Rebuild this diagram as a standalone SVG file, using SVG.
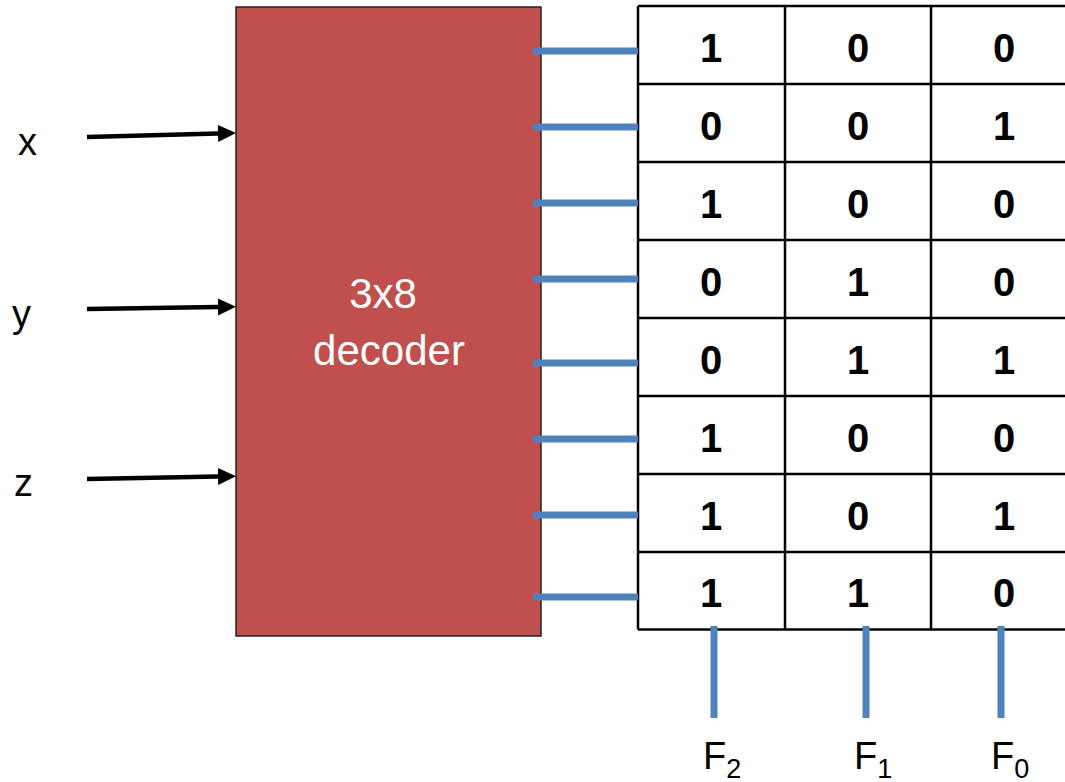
<svg xmlns="http://www.w3.org/2000/svg" width="1065" height="782" viewBox="0 0 1065 782">
  <defs>
    <style>
      .lbl { font-family: "Liberation Sans", Arial, sans-serif; font-size: 38px; fill: #000; }
      .flbl { font-family: "Liberation Sans", Arial, sans-serif; font-size: 38px; fill: #000; }
      .sub { font-size: 27px; }
      .dec { font-family: "Liberation Sans", Arial, sans-serif; font-size: 42px; fill: #fff; text-anchor: middle; }
      .bit { font-family: "Liberation Sans", Arial, sans-serif; font-size: 40px; font-weight: bold; fill: #000; text-anchor: middle; }
      .grid { stroke: #000; stroke-width: 2.5; fill: none; }
      .wire { stroke: #4F81BD; stroke-width: 7; fill: none; }
      .in { stroke: #000; stroke-width: 4.5; fill: none; marker-end: url(#head); }
    </style>
    <marker id="head" markerUnits="userSpaceOnUse" markerWidth="20" markerHeight="20" refX="0" refY="9" orient="auto">
      <polygon points="0,0.5 18,9 0,17.5" fill="#000"/>
    </marker>
  </defs>
  <rect width="1065" height="782" fill="#fff"/>

  <!-- input labels -->
  <g id="input-x"><text class="lbl" x="18" y="155">x</text></g>
  <g id="input-y"><text class="lbl" x="12" y="327">y</text></g>
  <g id="input-z"><text class="lbl" x="14" y="496">z</text></g>

  <!-- decoder block -->
  <g id="decoder">
    <rect x="236" y="7" width="305" height="629" fill="#C0504D" stroke="#222" stroke-width="1.5"/>
    <text class="dec" x="383" y="308">3x8</text>
    <text class="dec" x="389" y="365">decoder</text>
  </g>

  <!-- output table -->
  <g id="table">
    <path class="grid" d="M638,6 H1080 M638,84 H1080 M638,162 H1080 M638,240 H1080 M638,318 H1080 M638,396 H1080 M638,474 H1080 M638,552 H1080 M638,629.5 H1080 M638,6 V629.5 M785,6 V629.5 M931,6 V629.5"/>
    <g id="row1"><text class="bit" x="711" y="62">1</text><text class="bit" x="858" y="62">0</text><text class="bit" x="1004" y="62">0</text></g>
    <g id="row2"><text class="bit" x="711" y="140">0</text><text class="bit" x="858" y="140">0</text><text class="bit" x="1004" y="140">1</text></g>
    <g id="row3"><text class="bit" x="711" y="218">1</text><text class="bit" x="858" y="218">0</text><text class="bit" x="1004" y="218">0</text></g>
    <g id="row4"><text class="bit" x="711" y="296">0</text><text class="bit" x="858" y="296">1</text><text class="bit" x="1004" y="296">0</text></g>
    <g id="row5"><text class="bit" x="711" y="374">0</text><text class="bit" x="858" y="374">1</text><text class="bit" x="1004" y="374">1</text></g>
    <g id="row6"><text class="bit" x="711" y="452">1</text><text class="bit" x="858" y="452">0</text><text class="bit" x="1004" y="452">0</text></g>
    <g id="row7"><text class="bit" x="711" y="530">1</text><text class="bit" x="858" y="530">0</text><text class="bit" x="1004" y="530">1</text></g>
    <g id="row8"><text class="bit" x="711" y="607">1</text><text class="bit" x="858" y="607">1</text><text class="bit" x="1004" y="607">0</text></g>
  </g>

  <!-- output labels -->
  <g id="out-f2"><text class="flbl" x="703" y="769">F<tspan class="sub" dy="9">2</tspan></text></g>
  <g id="out-f1"><text class="flbl" x="854" y="769">F<tspan class="sub" dy="9">1</tspan></text></g>
  <g id="out-f0"><text class="flbl" x="991" y="769">F<tspan class="sub" dy="9">0</tspan></text></g>

  <!-- connectors -->
  <g id="connectors">
    <line class="in" x1="87" y1="137" x2="218" y2="133.5"/>
    <line class="in" x1="87" y1="309" x2="218" y2="307"/>
    <line class="in" x1="87" y1="479" x2="218" y2="476.5"/>
    <path class="wire" d="M533,51 H638 M533,127 H638 M533,203 H638 M533,279 H638 M533,363 H638 M533,439 H638 M533,515 H638 M533,597 H638"/>
    <path class="wire" d="M714,626 V718 M866,626 V718 M1001,626 V718"/>
  </g>
</svg>
